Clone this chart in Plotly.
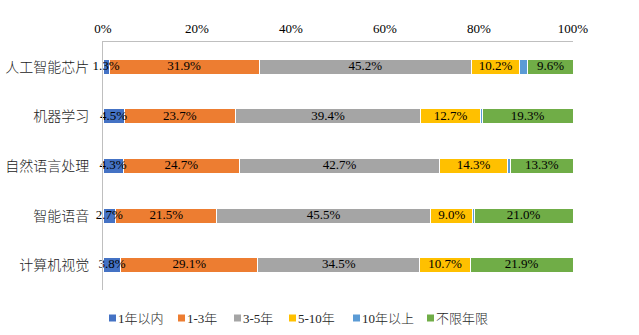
import plotly.graph_objects as go

categories = ["人工智能芯片", "机器学习", "自然语言处理", "智能语音", "计算机视觉"]
series_names = ["1年以内", "1-3年", "3-5年", "5-10年", "10年以上", "不限年限"]
v_lt1 = [1.3, 4.5, 4.3, 2.7, 3.8]
v_1_3 = [31.9, 23.7, 24.7, 21.5, 29.1]
v_3_5 = [45.2, 39.4, 42.7, 45.5, 34.5]
v_5_10 = [10.2, 12.7, 14.3, 9.0, 10.7]
v_gt10 = [1.8, 0.4, 0.7, 0.3, 0.0]
v_any = [9.6, 19.3, 13.3, 21.0, 21.9]
tick_vals = [0, 20, 40, 60, 80, 100]
tick_text = ["0%", "20%", "40%", "60%", "80%", "100%"]

series_values = [v_lt1, v_1_3, v_3_5, v_5_10, v_gt10, v_any]
colors = ["#4472C4", "#ED7D31", "#A5A5A5", "#FFC000", "#5B9BD5", "#70AD47"]
show_labels = [True, True, True, True, False, True]

FONT = "Liberation Serif, Noto Sans CJK SC, serif"
W, H = 639, 335
ML, MR, MT, MB = 103, 66, 42, 45
PW, PH = W - ML - MR, H - MT - MB

fig = go.Figure()
for name, vals, col in zip(series_names, series_values, colors):
    fig.add_trace(go.Bar(
        y=categories, x=vals, name=name, orientation="h",
        marker=dict(color=col, line=dict(color="white", width=1)),
        hoverinfo="skip", showlegend=False,
    ))

# data labels centred on each segment (computed from the data)
lx, ly, lt = [], [], []
base = [0.0] * len(categories)
for vals, lab in zip(series_values, show_labels):
    for j, v in enumerate(vals):
        if lab:
            lx.append(base[j] + v / 2)
            ly.append(categories[j])
            lt.append(f"{v:.1f}%")
        base[j] += v
fig.add_trace(go.Scatter(
    x=lx, y=ly, text=lt, mode="text", textposition="middle center",
    textfont=dict(family=FONT, size=13, color="black"),
    cliponaxis=False, showlegend=False, hoverinfo="skip",
))

# custom legend (small squares with text right next to them)
legend_px = [109, 178, 234, 289, 353, 427]
legend_y = 318
shapes, annotations = [], []
for name, col, px in zip(series_names, colors, legend_px):
    x0 = (px - ML) / PW
    x1 = (px + 7 - ML) / PW
    yc = (H - MB - legend_y) / PH
    hh = 3.5 / PH
    shapes.append(dict(type="rect", xref="paper", yref="paper", x0=x0, x1=x1,
                       y0=yc - hh, y1=yc + hh, fillcolor=col, line=dict(width=0)))
    annotations.append(dict(xref="paper", yref="paper", x=(px + 7 - ML) / PW, y=yc,
                            xanchor="left", yanchor="middle", text=name, showarrow=False,
                            font=dict(family=FONT, size=13, color="#262626", weight=300)))

fig.update_layout(
    barmode="stack",
    bargap=0.70,
    width=W, height=H,
    margin=dict(l=ML, r=MR, t=MT, b=MB, autoexpand=False),
    paper_bgcolor="white", plot_bgcolor="white",
    font=dict(family=FONT, color="black", size=12),
    xaxis=dict(
        side="top", range=[0, 100], tickvals=tick_vals, ticktext=tick_text,
        showgrid=False, zeroline=False, showline=True, linecolor="#BFBFBF",
        linewidth=1, ticks="", ticklabelstandoff=3,
        tickfont=dict(size=13, color="black", family=FONT),
    ),
    yaxis=dict(
        autorange="reversed", showgrid=False, zeroline=False, showline=True,
        linecolor="#BFBFBF", linewidth=1, ticks="",
        tickfont=dict(size=14, color="#1a1a1a", family=FONT, weight=300),
        ticklabelstandoff=10,
    ),
    shapes=shapes,
    annotations=annotations,
    showlegend=False,
)

fig.write_html("out.html")
